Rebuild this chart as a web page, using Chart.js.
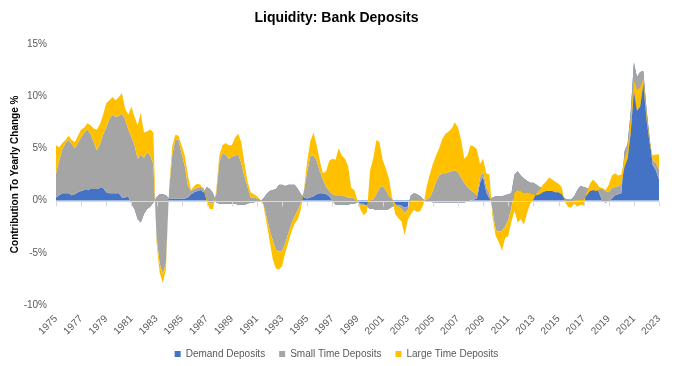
<!DOCTYPE html>
<html>
<head>
<meta charset="utf-8">
<title>Liquidity: Bank Deposits</title>
<script src="https://cdn.jsdelivr.net/npm/chart.js@4.4.0/dist/chart.umd.min.js"></script>
<style>
  html, body { margin: 0; padding: 0; background: #fff; }
  #wrap { width: 686px; height: 366px; }
</style>
</head>
<body>
<div id="wrap"><canvas id="bankDeposits"></canvas></div>
<script>
// quarterly points, 1975 Q1 .. 2023 Q1, contribution to yearly change (%)
const firstYear = 1975;
const tickYears = ["1975", "1977", "1979", "1981", "1983", "1985", "1987", "1989", "1991",
  "1993", "1995", "1997", "1999", "2001", "2003", "2005", "2007", "2009", "2011", "2013",
  "2015", "2017", "2019", "2021", "2023"];

const demandDeposits = [
  0.3, 0.5, 0.7, 0.7, 0.7, 0.5, 0.6, 0.8,
  0.9, 1.0, 1.0, 1.1, 1.1, 1.1, 1.2, 1.2,
  0.8, 0.7, 0.7, 0.7, 0.7, 0.3, 0.3, 0.4,
  -0.3, -0.8, -1.8, -2.1, -1.3, -0.8, -0.6, -0.2,
  0.3, 0.6, 0.6, 0.5, 0.2, 0.2, 0.2, 0.2,
  0.2, 0.2, 0.3, 0.6, 0.8, 0.9, 1.0, 0.8,
  1.3, 1.1, 0.7, -0.2, -0.3, -0.3, -0.3, -0.3,
  -0.3, -0.3, -0.4, -0.4, -0.4, -0.3, -0.2, -0.2,
  -0.1, -0.1, 0.2, 0.6, 0.9, 1.0, 1.1, 1.5,
  1.5, 1.4, 1.5, 1.5, 1.5, 1.1, 0.6, 0.3,
  0.2, 0.3, 0.4, 0.6, 0.7, 0.7, 0.6, 0.4,
  0.0, -0.4, -0.4, -0.4, -0.4, -0.4, -0.3, -0.3,
  -0.2, -0.3, -0.3, -0.6, -0.8, -0.8, -0.9, -0.9,
  -0.9, -0.9, -0.8, -0.6, -0.5, -0.4, -0.5, -0.7,
  -0.6, 0.5, 0.7, 0.6, 0.4, 0.1, -0.1, -0.1,
  -0.2, -0.2, -0.2, -0.2, -0.2, -0.2, -0.2, -0.2,
  -0.2, -0.2, -0.2, -0.1, 0.0, 0.1, 0.2, 1.7,
  2.3, 0.8, 0.2, 0.3, 0.4, 0.4, 0.4, 0.5,
  0.6, 0.7, 2.5, 2.8, 2.4, 2.1, 1.9, 1.7,
  1.7, 1.5, 1.3, 1.2, 1.0, 1.1, 1.1, 1.0,
  0.9, 0.7, 0.2, 0.1, 0.1, 0.4, 1.0, 1.4,
  1.3, 1.2, 1.2, 1.3, 1.3, 0.7, -0.1, -0.2,
  -0.1, 0.2, 0.5, 0.6, 0.7, 4.7, 5.4, 8.5,
  13.2, 11.8, 12.3, 12.4, 8.8, 6.0, 3.4, 2.9,
  2.0
];

const smallTimeDeposits = [
  2.3, 3.3, 4.2, 4.8, 5.1, 4.9, 4.4, 4.7,
  5.1, 5.5, 5.8, 5.3, 4.5, 3.7, 4.2, 5.1,
  6.2, 7.1, 7.5, 7.3, 7.4, 8.0, 7.5, 6.4,
  6.4, 6.1, 5.8, 6.5, 5.4, 5.4, 4.9, 3.7,
  -3.8, -6.6, -7.6, -6.5, 0.8, 4.1, 5.7, 5.6,
  4.3, 3.1, 1.1, 0.3, 0.3, 0.3, 0.3, 0.4,
  -1.1, -1.4, -0.9, 0.8, 4.0, 4.8, 4.7, 4.3,
  4.5, 4.6, 4.8, 4.0, 2.7, 1.6, 0.5, 0.5,
  0.3, 0.2, -0.5, -2.1, -3.7, -4.8, -5.8, -6.4,
  -6.3, -5.5, -4.6, -3.7, -3.0, -2.0, -0.8, 0.7,
  2.6, 4.0, 3.9, 3.2, 2.1, 1.3, 0.7, 0.5,
  0.6, 0.9, 0.9, 0.9, 0.8, 0.7, 0.6, 0.5,
  0.0, -0.1, -0.2, 0.2, 0.8, 0.9, 1.5, 2.1,
  2.3, 1.9, 1.2, 0.8, 0.2, -0.2, -0.3, -0.5,
  -0.3, -0.5, -0.7, -0.6, -0.4, -0.1, 0.2, 0.4,
  1.1, 2.0, 2.6, 2.8, 2.8, 2.9, 3.0, 3.1,
  2.9, 2.4, 1.9, 1.4, 1.0, 0.7, 0.3, 0.5,
  0.5, 0.5, 0.5, -1.3, -3.2, -3.4, -3.3, -3.0,
  -2.5, -1.4, -1.7, -1.8, -1.5, -1.4, -1.1, -1.0,
  -1.1, -1.0, -0.7, -0.4, -0.1, -0.2, -0.2, -0.2,
  -0.1, -0.1, -0.1, -0.3, -0.2, -0.4, -1.0, -1.3,
  -1.2, -0.7, -0.3, -0.3, -0.4, 0.4, 1.2, 1.1,
  0.9, 1.0, 0.8, 0.8, 0.8, -1.5, -1.4, -2.0,
  -2.7, -3.2, -3.3, -1.2, -1.0, -0.5, 0.5, 0.7,
  1.0
];

const largeTimeDeposits = [
  2.7, 1.3, 0.6, 0.3, 0.4, 0.4, 0.6, 0.7,
  0.8, 0.5, 0.6, 0.8, 1.3, 2.0, 1.9, 1.9,
  2.3, 1.8, 1.7, 1.6, 1.8, 2.0, 1.0, 1.4,
  2.9, 2.7, 3.2, 4.0, 2.4, 2.0, 2.5, 3.0,
  -0.5, -0.9, -0.9, -0.6, 0.1, 0.9, 0.4, 0.4,
  0.8, 1.0, 1.0, 0.1, 0.3, 0.4, 0.2, -0.2,
  -0.3, -0.5, -0.6, 0.3, 0.6, 0.8, 1.1, 1.3,
  1.1, 1.7, 2.0, 2.0, 1.3, 0.5, 0.5, 0.3,
  0.2, 0.0, -0.1, -0.6, -1.0, -1.8, -1.8, -1.7,
  -1.5, -0.9, -0.9, -0.8, -0.7, -0.9, -0.6, 0.2,
  1.0, 1.4, 2.2, 1.5, 1.0, 0.6, 1.5, 2.9,
  3.4, 3.4, 4.5, 3.8, 3.6, 3.0, 0.9, 0.8,
  0.2, -0.5, -0.9, -0.7, 2.9, 3.9, 5.2, 4.4,
  2.5, 2.1, 1.7, 0.1, -1.0, -1.1, -1.2, -2.1,
  -1.0, -1.3, -0.9, -1.1, -1.0, -0.4, 1.2, 2.2,
  2.6, 2.5, 2.6, 3.3, 3.8, 3.9, 4.1, 4.6,
  4.3, 3.6, 2.3, 3.0, 4.3, 4.4, 4.4, 1.3,
  1.2, 1.3, 1.8, -0.6, -0.6, -1.0, -1.9, -1.1,
  -1.5, -1.3, -1.8, -3.1, -2.7, -3.0, -2.0, -1.0,
  -0.5, 0.2, 0.4, 0.7, 0.9, 1.3, 1.1, 1.0,
  0.8, 0.7, -0.2, -0.4, -0.6, -0.3, -0.6, -0.5,
  -0.6, 0.3, 0.7, 1.0, 0.8, 0.2, 0.1, 0.1,
  0.7, 1.2, 1.3, 1.0, 1.0, 0.8, 0.9, 1.3,
  1.0, 2.0, 1.8, 0.4, 0.4, 0.2, 0.4, 0.8,
  1.4
];

const quarterLabels = demandDeposits.map((_, i) =>
  `${firstYear + Math.floor(i / 4)} Q${(i % 4) + 1}`);

// Excel stacks areas as running totals (signs mixed) and paints later series on top.
// Chart.js paints dataset 0 last, so the running totals are built here and drawn
// with "order" so that Large Time sits on top, as in Excel.
const stackDemand = demandDeposits.slice();
const stackSmall = stackDemand.map((v, i) => v + smallTimeDeposits[i]);
const stackLarge = stackSmall.map((v, i) => v + largeTimeDeposits[i]);

function yearTickFor(index) {
  if (index % 4 !== 0) return "";
  const year = String(firstYear + index / 4);
  return tickYears.includes(year) ? year : "";
}

Chart.defaults.font.family = "'Liberation Sans', Arial, sans-serif";
Chart.defaults.color = "#595959";

// zero axis with small tick marks, drawn over the areas
const zeroAxis = {
  id: "zeroAxis",
  afterDatasetsDraw(chart) {
    const { ctx, chartArea } = chart;
    const x = chart.scales.x;
    const y0 = Math.round(chart.scales.y.getPixelForValue(0)) + 0.5;
    ctx.save();
    ctx.strokeStyle = "#d9d9d9";
    ctx.lineWidth = 1;
    ctx.beginPath();
    ctx.moveTo(chartArea.left, y0);
    ctx.lineTo(chartArea.right, y0);
    quarterLabels.forEach((_, i) => {
      if (!yearTickFor(i)) return;
      const px = Math.round(x.getPixelForValue(i)) + 0.5;
      ctx.moveTo(px, y0);
      ctx.lineTo(px, y0 + 5);
    });
    ctx.stroke();
    ctx.restore();
  },
};

const ctx = document.getElementById("bankDeposits").getContext("2d");
new Chart(ctx, {
  type: "line",
  data: {
    labels: quarterLabels,
    datasets: [
      {
        label: "Demand Deposits",
        data: stackDemand,
        backgroundColor: "#4472c4",
        borderColor: "#4472c4",
        fill: "origin",
        order: 2,
      },
      {
        label: "Small Time Deposits",
        data: stackSmall,
        backgroundColor: "#a5a5a5",
        borderColor: "#a5a5a5",
        fill: "-1",
        order: 1,
      },
      {
        label: "Large Time Deposits",
        data: stackLarge,
        backgroundColor: "#ffc000",
        borderColor: "#ffc000",
        fill: "-1",
        order: 0,
      },
    ],
  },
  options: {
    responsive: true,
    maintainAspectRatio: false,
    animation: false,
    layout: { padding: { top: 7, right: 13, bottom: 0, left: 0 } },
    elements: {
      point: { radius: 0 },
      line: { borderWidth: 0, tension: 0 },
    },
    plugins: {
      title: {
        display: true,
        text: "Liquidity: Bank Deposits",
        color: "#000",
        font: { size: 14, weight: "bold" },
        padding: { top: 3, bottom: 17 },
      },
      legend: {
        position: "bottom",
        maxHeight: 31,
        labels: {
          boxWidth: 6,
          boxHeight: 6,
          padding: 14,
          color: "#595959",
          font: { size: 10 },
          sort: (a, b) => a.datasetIndex - b.datasetIndex,
        },
      },
      tooltip: { enabled: false },
    },
    scales: {
      x: {
        grid: { display: false, drawTicks: false },
        border: { display: false },
        ticks: {
          autoSkip: false,
          minRotation: 45,
          maxRotation: 45,
          padding: 8,
          font: { size: 10 },
          callback: (value, index) => yearTickFor(index),
        },
        afterFit: (scale) => { scale.height = 30; },
      },
      y: {
        min: -10,
        max: 15,
        grid: { display: false, drawTicks: false },
        border: { display: false },
        ticks: {
          stepSize: 5,
          padding: 9,
          font: { size: 10 },
          callback: (value) => value + "%",
        },
        title: {
          display: true,
          text: "Contribution To Yearly Change %",
          color: "#000",
          font: { size: 10, weight: "bold" },
          padding: { top: 9, bottom: 0 },
        },
        afterFit: (scale) => { scale.width = 56; },
      },
      // empty spacer on the right, keeps the plot edge where Excel put it
      spacer: {
        type: "linear",
        position: "right",
        grid: { display: false, drawTicks: false },
        border: { display: false },
        ticks: { display: false },
        afterFit: (scale) => { scale.width = 14; },
      },
    },
  },
  plugins: [zeroAxis],
});
</script>
</body>
</html>
